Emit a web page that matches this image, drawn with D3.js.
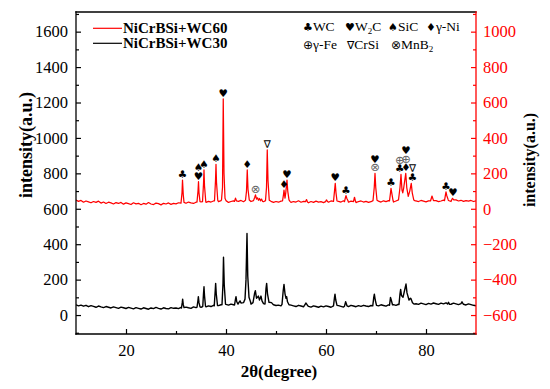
<!DOCTYPE html>
<html>
<head>
<meta charset="utf-8">
<script src="https://cdn.jsdelivr.net/npm/d3@7"></script>
<style>
  body { margin: 0; background: #fff; }
  svg text { font-family: "Liberation Serif", "Times New Roman", serif; }
  svg text.sym, svg tspan.sym { font-family: "DejaVu Sans", sans-serif; }
</style>
</head>
<body>
<svg id="chart" width="550" height="389"></svg>
<script>
// XRD patterns of two NiCrBSi+WC coatings. Black curve reads on the left axis,
// red curve on the red right axis (offset by 600 counts so the two stack).

const baseStart = 10, baseStep = 0.5;   // background sampled every 0.5°

// WC30, background counts (left axis)
const wc30Base = [
  58, 52, 56, 50, 55, 47, 53, 49, 44, 51, 46, 42, 48, 44, 40, 46, 42, 38, 45, 41, 37,
  43, 39, 35, 42, 38, 34, 41, 37, 33, 40, 36, 43, 38, 34, 41, 37, 35, 42, 38, 40,
  36, 43, 39, 45, 41, 38, 46, 42, 48, 44, 50, 46, 52, 48, 55, 50, 53, 58, 54, 60,
  56, 62, 58, 55, 61, 57, 63, 59, 56, 62, 58, 55, 60, 57, 53, 59, 55, 52, 58, 54,
  56, 52, 58, 54, 50, 56, 52, 48, 55, 51, 47, 53, 49, 45, 52, 48, 44, 50, 46, 52,
  48, 44, 51, 47, 53, 49, 45, 52, 48, 55, 51, 47, 53, 49, 55, 51, 48, 54, 50, 56,
  52, 58, 54, 50, 57, 53, 59, 55, 61, 57, 63, 59, 65, 61, 58, 64, 60, 67, 63, 59,
  66, 62, 68, 64, 60, 67, 63, 69, 65, 61, 67, 63, 59, 65, 61, 57, 63, 59, 55, 52
];

// WC30 reflections, [2θ, counts]
const wc30Peaks = [
  [[31.1, 40], [31.25, 70], [31.33, 90], [31.45, 60], [31.6, 42]],
  [[34.2, 44], [34.4, 85], [34.47, 104], [34.6, 70], [34.8, 46]],
  [[35.35, 48], [35.5, 120], [35.6, 160], [35.7, 110], [35.9, 50]],
  [[37.65, 52], [37.85, 140], [37.93, 179], [38.05, 120], [38.3, 54]],
  [[39.2, 58], [39.4, 180], [39.5, 326], [39.65, 170], [39.9, 62]],
  [[41.7, 56], [41.9, 90], [42.0, 104], [42.15, 75], [42.4, 62], [42.6, 72], [42.8, 80], [43.0, 68]],
  [[43.5, 70], [43.8, 90], [44.0, 200], [44.2, 461], [44.35, 220], [44.6, 100], [44.9, 75]],
  [[45.4, 70], [45.7, 120], [45.87, 138], [46.1, 95], [46.3, 100], [46.47, 107], [46.7, 85], [47.0, 107], [47.2, 80], [47.5, 65]],
  [[47.8, 62], [48.0, 150], [48.13, 179], [48.3, 120], [48.6, 72], [49.1, 70], [49.4, 60]],
  [[51.2, 60], [51.45, 140], [51.6, 173], [51.8, 120], [52.0, 95], [52.13, 104], [52.3, 75], [52.6, 58]],
  [[55.7, 55], [56.0, 68], [56.3, 54]],
  [[61.5, 52], [61.7, 100], [61.8, 118], [61.95, 85], [62.2, 55]],
  [[63.7, 50], [63.93, 75], [64.2, 52]],
  [[69.35, 52], [69.55, 100], [69.67, 118], [69.85, 85], [70.1, 55]],
  [[72.7, 55], [72.9, 100], [73.05, 85], [73.3, 58]],
  [[74.6, 60], [74.8, 120], [74.93, 145], [75.1, 110], [75.4, 100], [75.8, 150], [76.0, 175], [76.2, 125], [76.6, 85], [76.9, 95], [77.0, 92], [77.3, 70], [77.6, 62]],
  [[84.3, 62], [84.5, 72], [84.7, 60]],
  [[87.0, 65], [87.2, 75], [87.4, 64]]
];

// WC60, background counts (right axis)
const wc60Base = [
  50, 42, 47, 37, 44, 39, 34, 41, 36, 43, 32, 38, 30, 37, 33, 27, 35, 30, 36, 26, 33,
  29, 24, 34, 28, 31, 23, 30, 26, 35, 27, 24, 32, 29, 22, 31, 27, 33, 25, 30, 28,
  34, 29, 36, 31, 38, 33, 30, 37, 32, 39, 41, 36, 42, 38, 44, 37, 40, 46, 39, 43,
  36, 41, 45, 38, 42, 47, 40, 44, 49, 41, 46, 52, 43, 48, 40, 45, 38, 42, 36, 41,
  37, 43, 35, 40, 44, 36, 41, 38, 45, 37, 42, 39, 34, 41, 36, 43, 38, 40, 35, 42,
  37, 44, 39, 36, 42, 38, 45, 40, 37, 43, 39, 35, 41, 44, 38, 42, 36, 40, 45, 39,
  43, 38, 45, 40, 46, 41, 38, 44, 42, 48, 43, 40, 46, 42, 49, 44, 41, 47, 43, 39,
  45, 48, 42, 46, 40, 44, 49, 43, 47, 41, 45, 50, 44, 48, 42, 46, 43, 47, 41, 45
];

// WC60 reflections, [2θ, counts]
const wc60Peaks = [
  [[31.0, 32], [31.2, 90], [31.3, 162], [31.45, 80], [31.6, 36]],
  [[34.2, 38], [34.4, 100], [34.5, 153], [34.6, 90], [34.8, 40]],
  [[35.3, 40], [35.5, 140], [35.6, 219], [35.7, 130], [35.95, 42]],
  [[37.7, 45], [37.9, 160], [38.0, 251], [38.1, 150], [38.35, 48]],
  [[39.1, 50], [39.3, 120], [39.45, 620], [39.6, 200], [39.8, 60], [40.0, 46]],
  [[41.7, 42], [41.9, 60], [42.1, 44]],
  [[43.9, 48], [44.1, 100], [44.25, 219], [44.4, 110], [44.65, 50]],
  [[45.5, 46], [45.75, 65], [45.9, 78], [46.1, 55], [46.3, 62], [46.5, 48], [46.7, 58], [46.9, 45], [47.1, 55], [47.3, 42]],
  [[47.9, 46], [48.1, 120], [48.25, 332], [48.4, 160], [48.65, 48]],
  [[51.3, 44], [51.5, 80], [51.6, 106], [51.8, 60], [51.95, 90], [52.2, 162], [52.35, 100], [52.6, 50], [52.8, 42]],
  [[55.9, 40], [56.1, 52], [56.3, 38]],
  [[59.9, 40], [60.1, 50], [60.3, 41]],
  [[61.5, 42], [61.7, 100], [61.85, 144], [62.0, 90], [62.2, 44]],
  [[63.7, 40], [63.9, 65], [64.0, 74], [64.15, 60], [64.4, 45]],
  [[65.5, 41], [65.7, 65], [65.9, 42]],
  [[69.4, 46], [69.65, 120], [69.8, 200], [69.95, 120], [70.2, 48]],
  [[72.7, 45], [72.9, 90], [73.0, 115], [73.15, 90], [73.4, 48]],
  [[74.5, 50], [74.8, 120], [75.0, 194], [75.2, 105], [75.35, 90], [75.55, 120], [75.95, 200], [76.15, 120], [76.45, 70], [76.75, 100], [77.05, 144], [77.25, 90], [77.55, 50], [77.8, 45]],
  [[80.9, 44], [81.2, 72], [81.5, 46]],
  [[83.7, 46], [83.9, 80], [84.0, 96], [84.15, 75], [84.45, 50]],
  [[85.1, 48], [85.3, 59], [85.55, 50]]
];

// phase marks above the WC60 peaks: [2θ of mark, peak top, symbols from bottom up]
const phaseMarks = [
  [31.3, 162, ["♣"]],
  [34.5, 153, ["♥", "♠"]],
  [35.6, 219, ["♠"]],
  [38.0, 251, ["♠"]],
  [39.45, 620, ["♥"]],
  [44.25, 219, ["♦"]],
  [45.9, 78, ["⊗"]],
  [48.25, 332, ["∇"]],
  [51.6, 106, ["♦"]],
  [52.2, 162, ["♥"]],
  [61.85, 144, ["♥"]],
  [64.0, 74, ["♣"]],
  [69.8, 200, ["⊗", "♥"]],
  [73.0, 115, ["♣"]],
  [74.75, 194, ["♣", "⊕"]],
  [76.0, 200, ["♦", "⊕", "♥"]],
  [77.3, 144, ["♣", "∇"]],
  [84.0, 96, ["♣"]],
  [85.4, 59, ["♥"]]
];

const xTicks = [20, 40, 60, 80];
const xMinor = [30, 50, 70];
const leftTicks = [0, 200, 400, 600, 800, 1000, 1200, 1400, 1600];
const rightTicks = [-600, -400, -200, 0, 200, 400, 600, 800, 1000];
const seriesNames = ["NiCrBSi+WC60", "NiCrBSi+WC30"];
const seriesColors = ["#ff0000", "#000000"];
const phaseLegend = [
  [["♣", "WC"], ["♥", "W", "2", "C"], ["♠", "SiC"], ["♦", "γ-Ni"]],
  [["⊕", "γ-Fe"], ["∇", "CrSi"], ["⊗", "MnB", "2"]]
];

function buildSeries(base, peaks) {
  const pts = base
    .map((v, i) => [baseStart + i * baseStep, v])
    .filter(([a]) => !peaks.some(p => a >= p[0][0] && a <= p[p.length - 1][0]));
  peaks.forEach(p => pts.push(...p));
  return pts.sort((a, b) => a[0] - b[0]);
}

const wc30 = buildSeries(wc30Base, wc30Peaks);
const wc60 = buildSeries(wc60Base, wc60Peaks);

const plotLeft = 76, plotRight = 476, plotTop = 12, plotBottom = 334;
const svg = d3.select("#chart");

const x = d3.scaleLinear().domain([10, 90]).range([plotLeft, plotRight]);
const yL = d3.scaleLinear().domain([-107, 1711]).range([plotBottom, plotTop]);
const yR = d3.scaleLinear().domain([-707, 1111]).range([plotBottom, plotTop]);

svg.append("clipPath").attr("id", "plot-clip")
  .append("rect").attr("x", plotLeft).attr("y", plotTop)
  .attr("width", plotRight - plotLeft).attr("height", plotBottom - plotTop);

// curves
const line = (yScale) => d3.line().x(d => x(d[0])).y(d => yScale(d[1]));
const curves = svg.append("g").attr("clip-path", "url(#plot-clip)");
curves.append("path").attr("d", line(yL)(wc30))
  .attr("fill", "none").attr("stroke", "#000").attr("stroke-width", 1.4)
  .attr("stroke-linejoin", "round");
curves.append("path").attr("d", line(yR)(wc60))
  .attr("fill", "none").attr("stroke", "#ff0000").attr("stroke-width", 1.25)
  .attr("stroke-linejoin", "round");

// axes (ticks point inward)
function styleAxis(g, color) {
  g.select(".domain").remove();
  g.attr("font-family", null).attr("font-size", null);
  g.selectAll("line").attr("stroke", color).attr("stroke-width", 1.2);
  g.selectAll("text").attr("fill", color).style("font-size", "16.5px");
}

svg.append("g").attr("transform", `translate(0,${plotBottom})`)
  .call(d3.axisBottom(x).tickValues(xTicks).tickSize(-5).tickPadding(10).tickFormat(d3.format("d")))
  .call(g => styleAxis(g, "#000"));
svg.append("g").attr("transform", `translate(0,${plotBottom})`)
  .call(d3.axisBottom(x).tickValues(xMinor).tickSize(-3).tickFormat(""))
  .call(g => styleAxis(g, "#000"));

const minorOf = (ticks, step) => d3.range(ticks[0] - step / 2, ticks[ticks.length - 1] + step, step);

svg.append("g").attr("transform", `translate(${plotLeft},0)`)
  .call(d3.axisLeft(yL).tickValues(leftTicks).tickSize(-5).tickPadding(8).tickFormat(d3.format("d")))
  .call(g => styleAxis(g, "#000"));
svg.append("g").attr("transform", `translate(${plotLeft},0)`)
  .call(d3.axisLeft(yL).tickValues(minorOf(leftTicks, 200)).tickSize(-3).tickFormat(""))
  .call(g => styleAxis(g, "#000"));

svg.append("g").attr("transform", `translate(${plotRight},0)`)
  .call(d3.axisRight(yR).tickValues(rightTicks).tickSize(-5).tickPadding(7).tickFormat(d3.format("d")))
  .call(g => styleAxis(g, "#ff0000"));
svg.append("g").attr("transform", `translate(${plotRight},0)`)
  .call(d3.axisRight(yR).tickValues(minorOf(rightTicks, 200)).tickSize(-3).tickFormat(""))
  .call(g => styleAxis(g, "#ff0000"));

// frame
const frame = svg.append("g").attr("stroke-width", 1.3).attr("stroke-linecap", "square");
frame.append("line").attr("x1", plotLeft).attr("x2", plotRight).attr("y1", plotTop).attr("y2", plotTop).attr("stroke", "#000");
frame.append("line").attr("x1", plotLeft).attr("x2", plotRight).attr("y1", plotBottom).attr("y2", plotBottom).attr("stroke", "#000");
frame.append("line").attr("x1", plotLeft).attr("x2", plotLeft).attr("y1", plotTop).attr("y2", plotBottom).attr("stroke", "#000");
frame.append("line").attr("x1", plotRight).attr("x2", plotRight).attr("y1", plotTop).attr("y2", plotBottom).attr("stroke", "#ff0000");

// axis titles
svg.append("text").attr("x", (plotLeft + plotRight) / 2 + 3).attr("y", 377)
  .attr("text-anchor", "middle").style("font-size", "17px").attr("font-weight", "bold")
  .text("2θ(degree)");
svg.append("text").attr("transform", "translate(32,145) rotate(-90)")
  .attr("text-anchor", "middle").style("font-size", "18px").attr("font-weight", "bold")
  .text("intensity(a.u.)");
svg.append("text").attr("transform", "translate(535,160) rotate(-90)")
  .attr("text-anchor", "middle").style("font-size", "16px").attr("font-weight", "bold")
  .text("intensity(a.u.)");

// phase marks
const marks = svg.append("g").attr("text-anchor", "middle");
phaseMarks.forEach(([angle, peak, symbols]) => {
  symbols.forEach((s, k) => {
    const ring = s === "⊗" || s === "⊕";
    marks.append("text").attr("class", "sym")
      .attr("x", x(angle))
      .attr("y", yR(peak) - 6 - k * 8.8)
      .attr("dominant-baseline", "central")
      .style("font-size", ring ? "11.5px" : "10.5px")
      .attr("fill", ring ? "#666" : "#000")
      .text(s);
  });
});

// series legend
seriesNames.forEach((name, i) => {
  const ly = 28.3 + i * 15;
  svg.append("line").attr("x1", 93).attr("x2", 122).attr("y1", ly).attr("y2", ly)
    .attr("stroke", seriesColors[i]).attr("stroke-width", 1.2);
  svg.append("text").attr("x", 123).attr("y", ly + 4.5)
    .style("font-size", "15px").attr("font-weight", "bold").text(name);
});

// phase legend
const legendX = [[303, 345, 388, 426], [303, 347, 391]];
phaseLegend.forEach((row, r) => {
  row.forEach((item, c) => {
    const t = svg.append("text").attr("x", legendX[r][c]).attr("y", 31 + r * 18)
      .style("font-size", "13.5px");
    const ring = item[0] === "⊕" || item[0] === "⊗";
    t.append("tspan").attr("class", "sym")
      .style("font-size", ring ? "12px" : "11px").text(item[0]);
    item.slice(1).forEach((part, j) => {
      const sub = j % 2 === 1;
      t.append("tspan").style("font-size", sub ? "9px" : "13.5px")
        .attr("dy", sub ? 3 : (j > 0 ? -3 : 0)).text(part);
    });
  });
});
</script>
</body>
</html>
